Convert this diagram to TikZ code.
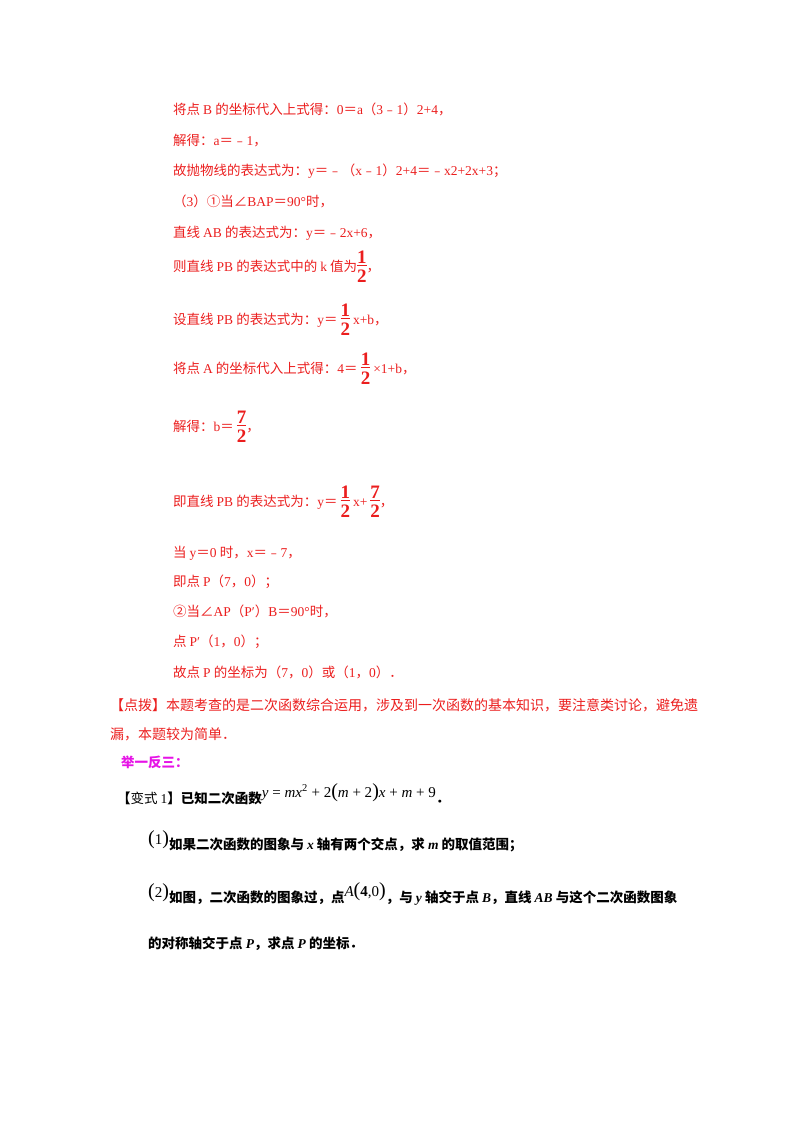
\documentclass[tikz,border=0pt]{standalone}
\usepackage{amsmath}
\usepackage{fontspec}
\setmainfont{Noto Sans CJK SC}
\XeTeXlinebreaklocale "zh"
\XeTeXlinebreakskip=0pt plus 1pt
\newfontfamily\lat{Liberation Serif}
\newcommand{\Lt}[1]{{\lat #1}}
\newcommand{\fr}[2]{\raisebox{-2pt}{\begin{tabular}{@{}c@{}}\lat\bfseries\fontsize{19}{20}\selectfont #1\\[-3pt]\hline\rule{0pt}{17pt}\lat\bfseries\fontsize{19}{20}\selectfont #2\end{tabular}}}
\newcommand{\bp}[1]{{\fontsize{20}{20}\selectfont\lat #1}}
\definecolor{rd}{RGB}{235,30,30}
\definecolor{mg}{RGB}{230,20,230}
\begin{document}
\begin{tikzpicture}[x=1pt,y=-1pt,
  ln/.style={anchor=base west,inner sep=0,font=\fontsize{13.5}{16}\selectfont,text=rd},
  bk/.style={anchor=base west,inner sep=0,font=\fontsize{13.5}{16}\selectfont\bfseries,text=black}]
\useasboundingbox (0,0) rectangle (800,1132);
\node[ln] (l1) at (173,114) {将点 \Lt{B} 的坐标代入上式得：\Lt{0}＝\Lt{a}（\Lt{3}﹣\Lt{1}）\Lt{2+4}，};
\node[ln] (l2) at (173,145) {解得：\Lt{a}＝﹣\Lt{1}，};
\node[ln] (l3) at (173,175) {故抛物线的表达式为：\Lt{y}＝﹣（\Lt{x}﹣\Lt{1}）\Lt{2+4}＝﹣\Lt{x2+2x+3}；};
\node[ln] (l4) at (173,206) {（\Lt{3}）①当∠\Lt{BAP}＝\Lt{90°}时，};
\node[ln] (l5) at (173,237) {直线 \Lt{AB} 的表达式为：\Lt{y}＝﹣\Lt{2x+6}，};
\node[ln] (l6) at (173,271) {则直线 \Lt{PB} 的表达式中的 \Lt{k} 值为\fr{1}{2}，};
\node[ln] (l7) at (173,324) {设直线 \Lt{PB} 的表达式为：\Lt{y}＝ \fr{1}{2} \Lt{x+b}，};
\node[ln] (l8) at (173,373) {将点 \Lt{A} 的坐标代入上式得：\Lt{4}＝ \fr{1}{2} \Lt{×1+b}，};
\node[ln] (l9) at (173,431) {解得：\Lt{b}＝ \fr{7}{2}，};
\node[ln] (l10) at (173,506) {即直线 \Lt{PB} 的表达式为：\Lt{y}＝ \fr{1}{2} \Lt{x+} \fr{7}{2}，};
\node[ln] (l11) at (173,557) {当 \Lt{y}＝\Lt{0} 时，\Lt{x}＝﹣\Lt{7}，};
\node[ln] (l12) at (173,586) {即点 \Lt{P}（\Lt{7}，\Lt{0}）；};
\node[ln] (l13) at (173,616) {②当∠\Lt{AP}（\Lt{P′}）\Lt{B}＝\Lt{90°}时，};
\node[ln] (l14) at (173,646) {点 \Lt{P′}（\Lt{1}，\Lt{0}）；};
\node[ln] (l15) at (173,677) {故点 \Lt{P} 的坐标为（\Lt{7}，\Lt{0}）或（\Lt{1}，\Lt{0}）．};
\node[ln,align=left,anchor=north west,font=\fontsize{14}{29}\selectfont] (l16) at (110,698) {【点拨】本题考查的是二次函数综合运用，涉及到一次函数的基本知识，要注意类讨论，避免遗\\漏，本题较为简单．};
\node[bk,text=mg] (l17) at (121,767) {举一反三：};
\node[bk] (l18) at (117,803) {【\textmd{变式 \Lt{1}}】已知二次函数\raisebox{6pt}{\lat\mdseries\fontsize{15}{16}\selectfont \textit{y} = \textit{mx}\textsuperscript{2} + 2\bp{(}\textit{m} + 2\bp{)}\textit{x} + \textit{m} + 9}．};
\node[bk] (l19) at (148,849) {\raisebox{5pt}{\lat\mdseries\fontsize{15}{16}\selectfont\bp{(}1\bp{)}}如果二次函数的图象与 \Lt{\textit{x}} 轴有两个交点，求 \Lt{\textit{m}} 的取值范围；};
\node[bk] (l20) at (148,902) {\raisebox{5pt}{\lat\mdseries\fontsize{15}{16}\selectfont\bp{(}2\bp{)}}如图，二次函数的图象过，点\raisebox{6pt}{\lat\mdseries\fontsize{15}{16}\selectfont\textit{A}\bp{(}\textbf{4},0\bp{)}}，与 \Lt{\textit{y}} 轴交于点 \Lt{\textit{B}}，直线 \Lt{\textit{AB}} 与这个二次函数图象};
\node[bk] (l21) at (148,948) {的对称轴交于点 \Lt{\textit{P}}，求点 \Lt{\textit{P}} 的坐标．};
\end{tikzpicture}
\end{document}
